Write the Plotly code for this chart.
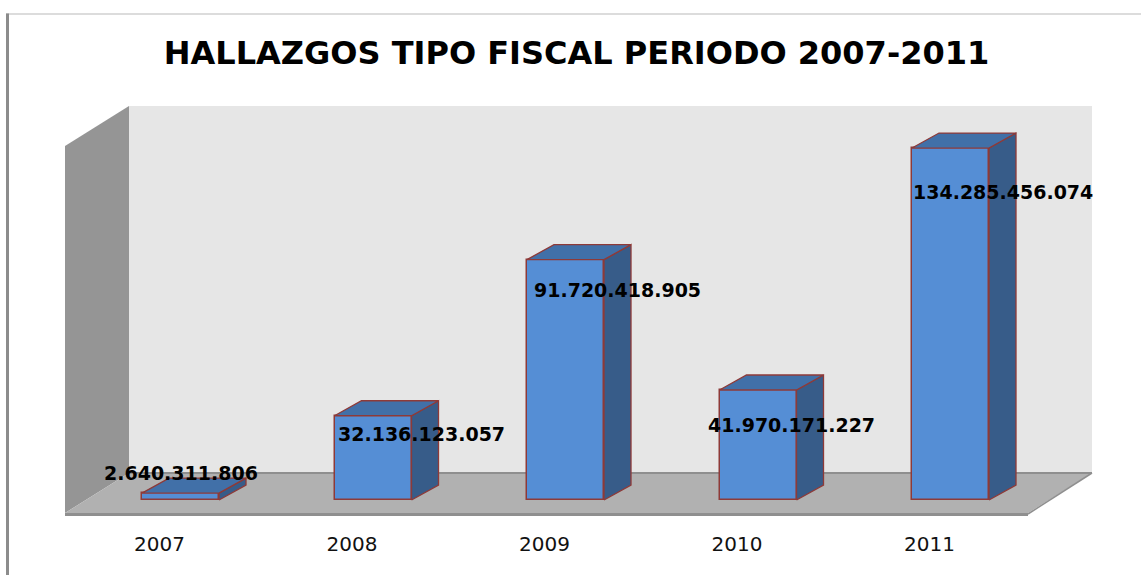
import plotly.graph_objects as go

# ---------------- data ----------------
years = ["2007", "2008", "2009", "2010", "2011"]
values = [2640311806, 32136123057, 91720418905, 41970171227, 134285456074]
title_text = "HALLAZGOS TIPO FISCAL PERIODO 2007-2011"
axis_max = 140e9  # hidden value-axis maximum of the 3-D chart

# ---------------- layout / style constants ----------------
W, H = 1141, 575
PX_CAT = 192.5          # pixels per category
PX_VAL = 2.621e-9       # pixels per value unit
X0_PX, Y0_PX = 180.5, 500.0   # pixel of category 0 / value 0 (bar front base)
PLOT_L, PLOT_R, PLOT_T, PLOT_B = 55, 1105, 95, 530

def dx(px):
    return px / PX_CAT

def dy(px):
    return px / PX_VAL

BW = dx(77)                      # bar width
BDX, BDY = dx(27), dy(15)        # bar depth vector
FDX, FDY = dx(-21), dy(-13)      # floor front edge relative to bar plane
KDX, KDY = dx(43), dy(27)        # back wall relative to bar plane
XL, XR = dx(86 - X0_PX), dx(1049 - X0_PX)

C_FRONT = "#558ED5"
C_SIDE = "#375C89"
C_TOP = "#4170A8"
C_EDGE = "#8E3A38"
C_BACK = "#E6E6E6"
C_LEFT = "#959595"
C_FLOOR = "#B1B1B1"
C_FLOOR_EDGE = "#8F8F8F"

xs = list(range(len(years)))

# ---------------- 3-D faces of bars ----------------
side_x, side_y, top_x, top_y = [], [], [], []
for i, v in zip(xs, values):
    r = i + BW / 2
    l = i - BW / 2
    side_x += [r, r + BDX, r + BDX, r, r, None]
    side_y += [0, BDY, v + BDY, v, 0, None]
    top_x += [l, l + BDX, r + BDX, r, l, None]
    top_y += [v, v + BDY, v + BDY, v, v, None]

fig = go.Figure()
fig.add_trace(go.Bar(
    x=xs, y=values, width=BW,
    marker=dict(color=C_FRONT, line=dict(color=C_EDGE, width=1.5)),
    hoverinfo="skip", showlegend=False,
))
fig.add_trace(go.Scatter(
    x=side_x, y=side_y, mode="lines", fill="toself", fillcolor=C_SIDE,
    line=dict(color=C_EDGE, width=1.3), hoverinfo="skip", showlegend=False,
))
fig.add_trace(go.Scatter(
    x=top_x, y=top_y, mode="lines", fill="toself", fillcolor=C_TOP,
    line=dict(color=C_EDGE, width=1.3), hoverinfo="skip", showlegend=False,
))

# ---------------- walls & floor (shapes below traces) ----------------
def path(pts):
    return "M " + " L ".join(f"{x},{y}" for x, y in pts) + " Z"

shapes = []
# back wall
shapes.append(dict(type="path", xref="x", yref="y", layer="below",
                   path=path([(XL + KDX, KDY), (XR + KDX, KDY),
                              (XR + KDX, axis_max + KDY), (XL + KDX, axis_max + KDY)]),
                   fillcolor=C_BACK, line=dict(width=0)))
# left wall
shapes.append(dict(type="path", xref="x", yref="y", layer="below",
                   path=path([(XL + FDX, FDY), (XL + FDX, axis_max + FDY),
                              (XL + KDX, axis_max + KDY), (XL + KDX, KDY)]),
                   fillcolor=C_LEFT, line=dict(width=0)))
# floor front thickness
shapes.append(dict(type="path", xref="x", yref="y", layer="below",
                   path=path([(XL + FDX, FDY), (XR + FDX, FDY),
                              (XR + FDX, FDY - dy(3)), (XL + FDX, FDY - dy(3))]),
                   fillcolor=C_FLOOR_EDGE, line=dict(width=0)))
# floor
shapes.append(dict(type="path", xref="x", yref="y", layer="below",
                   path=path([(XL + FDX, FDY), (XR + FDX, FDY),
                              (XR + KDX, KDY), (XL + KDX, KDY)]),
                   fillcolor=C_FLOOR, line=dict(width=0)))
# floor back edge & right edge lines
shapes.append(dict(type="line", xref="x", yref="y", layer="below",
                   x0=XL + KDX, y0=KDY, x1=XR + KDX, y1=KDY,
                   line=dict(color=C_FLOOR_EDGE, width=2)))
shapes.append(dict(type="line", xref="x", yref="y", layer="below",
                   x0=XR + FDX, y0=FDY - dy(1), x1=XR + KDX, y1=KDY,
                   line=dict(color=C_FLOOR_EDGE, width=1.5)))

# outer chart border (pixel positions -> paper)
def xp(px):
    return (px - PLOT_L) / (PLOT_R - PLOT_L)

def yp(py):
    return (PLOT_B - py) / (PLOT_B - PLOT_T)

shapes.append(dict(type="line", xref="paper", yref="paper",
                   x0=xp(6), y0=yp(14), x1=xp(1145), y1=yp(14),
                   line=dict(color="#D0D0D0", width=1.5)))
shapes.append(dict(type="line", xref="paper", yref="paper",
                   x0=xp(7.5), y0=yp(13.5), x1=xp(7.5), y1=yp(580),
                   line=dict(color="#8C8C8C", width=3)))

# ---------------- data labels ----------------
label_shift = [(0, 20), (48, -18), (52, -30), (33, -35), (52, -44)]
annotations = []
for i, v, (sx, sy) in zip(xs, values, label_shift):
    annotations.append(dict(
        x=i, y=v, xref="x", yref="y", text=f"{v:,}".replace(",", "."),
        showarrow=False, xshift=sx, yshift=sy, xanchor="center", yanchor="middle",
        font=dict(family="DejaVu Sans", size=19, color="#000000", weight="bold"),
    ))

fig.update_layout(
    width=W, height=H,
    margin=dict(l=PLOT_L, r=W - PLOT_R, t=PLOT_T, b=H - PLOT_B, pad=0),
    paper_bgcolor="white", plot_bgcolor="rgba(0,0,0,0)",
    title=dict(text=title_text, x=576.5 / W, xref="container", xanchor="center",
               y=1 - 53 / H, yref="container", yanchor="middle",
               font=dict(family="DejaVu Sans", size=32, color="#000000", weight="bold")),
    xaxis=dict(range=[dx(PLOT_L - X0_PX), dx(PLOT_R - X0_PX)],
               tickmode="array", tickvals=[i + FDX for i in xs], ticktext=years,
               tickfont=dict(family="DejaVu Sans", size=20, color="#111111"),
               ticks="", ticklen=0,
               showgrid=False, zeroline=False, showline=False, fixedrange=True),
    yaxis=dict(range=[dy(Y0_PX - PLOT_B), dy(Y0_PX - PLOT_T)], visible=False,
               showgrid=False, zeroline=False, fixedrange=True),
    shapes=shapes, annotations=annotations, showlegend=False, bargap=0,
)

fig.write_html("out.html", config={"displayModeBar": False},
               post_script="document.body.style.margin='0';document.body.style.padding='0';")
